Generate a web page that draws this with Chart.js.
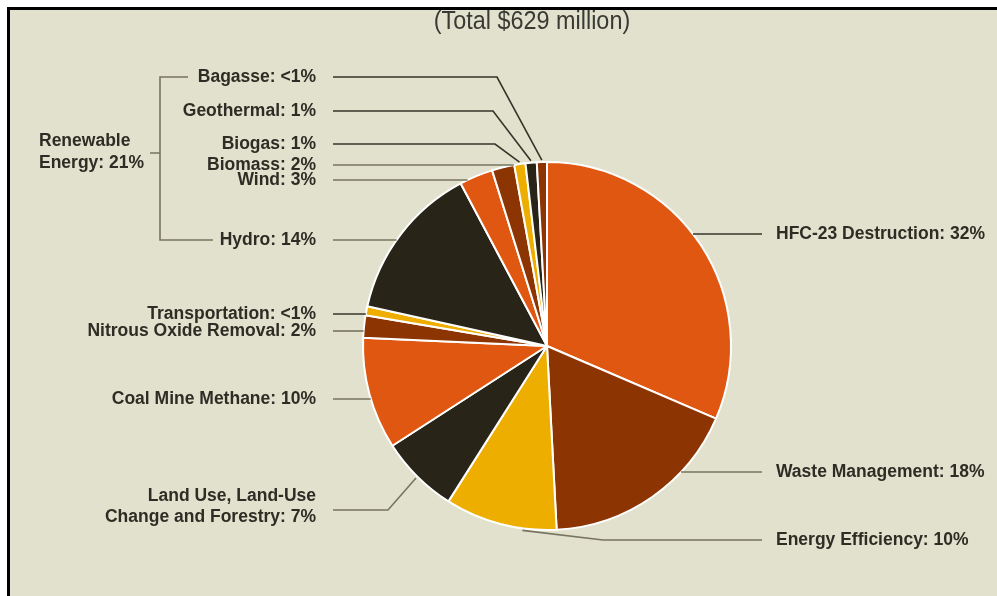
<!DOCTYPE html>
<html>
<head>
<meta charset="utf-8">
<script src="https://cdn.jsdelivr.net/npm/chart.js@4.4.1/dist/chart.umd.min.js"></script>
<style>
    html, body {
        margin: 0;
        padding: 0;
        background: #ffffff;
        width: 997px;
        height: 596px;
        overflow: hidden;
    }
    .panel {
        position: absolute;
        left: 7px;
        top: 7px;
        width: 990px;
        height: 589px;
        box-sizing: border-box;
        border-top: 3px solid #000;
        border-left: 3px solid #000;
        background: #e1e1cd;
    }
    #funding {
        position: absolute;
        left: 0;
        top: 0;
    }
</style>
</head>
<body>
<div class="panel"></div>
<canvas id="funding" width="997" height="596"></canvas>
<script>
// project funding by type, share of total (percent)
const categories = [
    "HFC-23 Destruction",
    "Waste Management",
    "Energy Efficiency",
    "Land Use, Land-Use\nChange and Forestry",
    "Coal Mine Methane",
    "Nitrous Oxide Removal",
    "Transportation",
    "Hydro",
    "Wind",
    "Biomass",
    "Biogas",
    "Geothermal",
    "Bagasse",
];
const shares = [32, 18, 10, 7, 10, 2, 0.8, 14, 3, 2, 1, 1, 0.9];
const shareLabels = ["32%", "18%", "10%", "7%", "10%", "2%", "<1%", "14%", "3%", "2%", "1%", "1%", "<1%"];
const renewableTotal = "21%";

const ORANGE = "#e05712";
const BROWN = "#8d3502";
const YELLOW = "#eeae00";
const DARK = "#282418";
const sliceColors = [ORANGE, BROWN, YELLOW, DARK, ORANGE, BROWN, YELLOW, DARK, ORANGE, BROWN, YELLOW, DARK, BROWN];

// where each label sits; knee = x where the leader line bends towards the slice,
// at = how far along the slice the bent line lands (0..1)
const LINE_DARK = "#34342a";
const LINE_GREY = "#77745f";
const labelLayout = [
    { side: "right", y: 234, line: LINE_DARK },
    { side: "right", y: 472, line: LINE_GREY },
    { side: "right", y: 540, line: LINE_GREY, knee: 603, at: 0.3 },
    { side: "left", y: 510, line: LINE_GREY, knee: 388 },
    { side: "left", y: 399, line: LINE_GREY },
    { side: "left", y: 331, line: LINE_GREY },
    { side: "left", y: 314, line: LINE_DARK },
    { side: "left", y: 240, line: LINE_GREY },
    { side: "left", y: 180, line: LINE_GREY },
    { side: "left", y: 165, line: LINE_GREY },
    { side: "left", y: 144, line: LINE_DARK, knee: 495 },
    { side: "left", y: 111, line: LINE_DARK, knee: 493 },
    { side: "left", y: 77, line: LINE_DARK, knee: 497 },
];

const TEXT_COLOR = "#2e2d25";
const LABEL_FONT = "bold 17.5px 'Liberation Sans', Arial, sans-serif";

const leaderLabels = {
    id: "leaderLabels",
    afterDatasetsDraw(chart) {
        const ctx = chart.ctx;
        const arcs = chart.getDatasetMeta(0).data;
        ctx.save();

        // title, slightly condensed and cut off by the frame
        ctx.save();
        ctx.beginPath();
        ctx.rect(10, 10, 987, 40);
        ctx.clip();
        ctx.fillStyle = "#3a3a34";
        ctx.font = "26px 'Liberation Sans', Arial, sans-serif";
        ctx.textAlign = "center";
        ctx.textBaseline = "middle";
        ctx.translate(532, 22);
        ctx.scale(0.9, 1);
        ctx.fillText("(Total $629 million)", 0, 0);
        ctx.restore();

        ctx.font = LABEL_FONT;
        arcs.forEach((arc, i) => {
            const p = arc.getProps(["x", "y", "startAngle", "endAngle", "outerRadius"], true);
            const cfg = labelLayout[i];
            const left = cfg.side === "left";
            const textX = left ? 316 : 776;
            const lineStart = left ? 333 : 762;

            let ax, ay;
            if (cfg.knee !== undefined) {
                const f = cfg.at !== undefined ? cfg.at : 0.5;
                const ang = p.startAngle + (p.endAngle - p.startAngle) * f;
                ax = p.x + (p.outerRadius + 2) * Math.cos(ang);
                ay = p.y + (p.outerRadius + 2) * Math.sin(ang);
            } else {
                const dy = cfg.y - p.y;
                const dx = Math.sqrt(Math.max(0, p.outerRadius * p.outerRadius - dy * dy));
                ax = left ? p.x - dx : p.x + dx;
                ay = cfg.y;
            }

            ctx.strokeStyle = cfg.line;
            ctx.lineWidth = 1.6;
            ctx.beginPath();
            ctx.moveTo(lineStart, cfg.y);
            if (cfg.knee !== undefined) ctx.lineTo(cfg.knee, cfg.y);
            ctx.lineTo(ax, ay);
            ctx.stroke();

            const lines = (categories[i] + ": " + shareLabels[i]).split("\n");
            ctx.fillStyle = TEXT_COLOR;
            ctx.textAlign = left ? "right" : "left";
            ctx.textBaseline = "middle";
            const lh = 21;
            const top = cfg.y - ((lines.length - 1) * lh) / 2 - (lines.length > 1 ? 3 : 0);
            lines.forEach((t, k) => ctx.fillText(t, textX, top + k * lh));
        });

        // bracket grouping the renewable energy types
        const yTop = labelLayout[12].y;
        const yBot = labelLayout[7].y;
        const yMid = 153;
        ctx.strokeStyle = LINE_GREY;
        ctx.lineWidth = 1.6;
        ctx.beginPath();
        ctx.moveTo(188, yTop);
        ctx.lineTo(160, yTop);
        ctx.lineTo(160, yBot);
        ctx.lineTo(213, yBot);
        ctx.moveTo(150, yMid);
        ctx.lineTo(160, yMid);
        ctx.stroke();

        ctx.fillStyle = TEXT_COLOR;
        ctx.textAlign = "left";
        ctx.fillText("Renewable", 39, 141);
        ctx.fillText("Energy: " + renewableTotal, 39, 163);

        ctx.restore();
    },
};

new Chart(document.getElementById("funding"), {
    type: "pie",
    data: {
        labels: categories,
        datasets: [
            {
                data: shares,
                backgroundColor: sliceColors,
                borderColor: "#ffffff",
                borderWidth: 2,
            },
        ],
    },
    options: {
        responsive: false,
        animation: false,
        layout: {
            padding: {
                top: 161,
                bottom: 65,
                left: 362,
                right: 265,
            },
        },
        plugins: {
            legend: { display: false },
            tooltip: { enabled: false },
        },
    },
    plugins: [leaderLabels],
});
</script>
</body>
</html>
